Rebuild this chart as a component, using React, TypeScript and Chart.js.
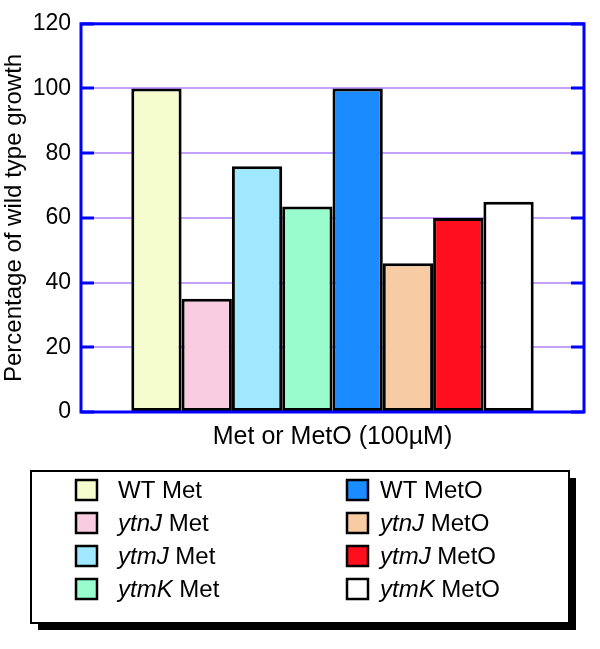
import React, { useEffect, useRef } from "react";
import { Chart, registerables } from "chart.js";

Chart.register(...registerables);

const xTitle = "Met or MetO (100µM)";
const yTitle = "Percentage of wild type growth";
const genes = ["WT", "ytnJ", "ytmJ", "ytmK", "WT", "ytnJ", "ytmJ", "ytmK"];
const treatments = ["Met", "Met", "Met", "Met", "MetO", "MetO", "MetO", "MetO"];
const values = [100, 35, 76, 63.5, 100, 46, 60, 65];
const colors = [
  "#f5fccd",
  "#f9cce0",
  "#a0e8ff",
  "#99fccc",
  "#1a8cff",
  "#f7cba4",
  "#ff0f1e",
  "#ffffff",
];
const yMin = 0;
const yMax = 120;
const yStep = 20;

const FONT = "'Liberation Sans', Arial, Helvetica, sans-serif";
const AXIS_BLUE = "#0000ff";
const GRID = "#c4a0ff";

const framePlugin = {
  id: "frame",
  afterDatasetsDraw(chart: any) {
    const { ctx, chartArea } = chart;
    const { left, right, top, bottom } = chartArea;
    const y = chart.scales.y;
    ctx.save();
    ctx.strokeStyle = AXIS_BLUE;
    ctx.lineWidth = 3;
    y.ticks.forEach((t: any) => {
      const py = Math.round(y.getPixelForValue(t.value));
      ctx.beginPath();
      ctx.moveTo(left, py);
      ctx.lineTo(left + 13, py);
      ctx.moveTo(right - 13, py);
      ctx.lineTo(right, py);
      ctx.stroke();
    });
    ctx.strokeRect(left, top, right - left, bottom - top);
    ctx.restore();
  },
};

const legendPlugin = {
  id: "customLegend",
  afterDraw(chart: any) {
    const { ctx } = chart;
    const bx = 31, by = 471, bw = 538, bh = 152, sh = 7;
    ctx.save();
    ctx.fillStyle = "#000";
    ctx.beginPath();
    ctx.moveTo(bx + bw, by + sh);
    ctx.lineTo(bx + bw + sh, by + sh);
    ctx.lineTo(bx + bw + sh, by + bh + sh);
    ctx.lineTo(bx + sh, by + bh + sh);
    ctx.lineTo(bx + sh, by + bh);
    ctx.lineTo(bx + bw, by + bh);
    ctx.closePath();
    ctx.fill();
    ctx.fillStyle = "#fff";
    ctx.fillRect(bx, by, bw, bh);
    ctx.strokeStyle = "#000";
    ctx.lineWidth = 2;
    ctx.strokeRect(bx, by, bw, bh);

    const rowY = [490, 523, 556, 589];
    const colSwatchX = [76, 347];
    const colTextX = [118, 380];
    chart.data.datasets.forEach((ds: any, i: number) => {
      const col = i < 4 ? 0 : 1;
      const row = i % 4;
      const cy = rowY[row];
      ctx.fillStyle = ds.backgroundColor;
      ctx.fillRect(colSwatchX[col], cy - 10, 21, 20);
      ctx.strokeStyle = "#000";
      ctx.lineWidth = 2.5;
      ctx.strokeRect(colSwatchX[col], cy - 10, 21, 20);
      ctx.fillStyle = "#000";
      ctx.textBaseline = "middle";
      ctx.textAlign = "left";
      let x = colTextX[col];
      const gene = genes[i];
      ctx.font = (gene === "WT" ? "" : "italic ") + "24px " + FONT;
      ctx.fillText(gene, x, cy + 1);
      x += ctx.measureText(gene).width;
      ctx.font = "24px " + FONT;
      ctx.fillText(" " + treatments[i], x, cy + 1);
    });
    ctx.restore();
  },
};

export default function App() {
  const ref = useRef<HTMLCanvasElement>(null);
  useEffect(() => {
    document.body.style.margin = "0";
    const canvas = ref.current!;
    const chart = new Chart(canvas, {
      type: "bar",
      data: {
        labels: [""],
        datasets: values.map((v, i) => ({
          label: genes[i] + " " + treatments[i],
          data: [v],
          backgroundColor: colors[i],
          borderColor: "#000",
          borderWidth: 3,
          borderSkipped: false,
          categoryPercentage: 0.8,
          barPercentage: 1,
        })),
      },
      options: {
        animation: false,
        responsive: false,
        devicePixelRatio: 1,
        layout: { padding: { top: 21, right: 16, left: 0, bottom: 197 } },
        plugins: {
          legend: { display: false },
          tooltip: { enabled: false },
        },
        scales: {
          x: {
            grid: { display: false },
            border: { display: false },
            ticks: { display: false },
            title: {
              display: true,
              text: xTitle,
              color: "#000",
              font: { family: FONT, size: 25 },
              padding: { top: 2, bottom: 0 },
            },
            afterFit(scale: any) {
              scale.height = 40;
            },
          },
          y: {
            min: yMin,
            max: yMax,
            ticks: {
              stepSize: yStep,
              color: "#000",
              font: { family: FONT, size: 23 },
              padding: 10,
            },
            grid: { color: GRID, lineWidth: 2, drawTicks: false },
            border: { display: false },
            title: {
              display: true,
              text: yTitle,
              color: "#000",
              font: { family: FONT, size: 24 },
              padding: { top: 0, bottom: 0 },
            },
            afterFit(scale: any) {
              scale.width = 81;
            },
          },
        },
      },
      plugins: [framePlugin, legendPlugin],
    });
    return () => chart.destroy();
  }, []);
  return (
    <div style={{ width: 600, height: 649, background: "#fff" }}>
      <canvas ref={ref} width={600} height={649} />
    </div>
  );
}
